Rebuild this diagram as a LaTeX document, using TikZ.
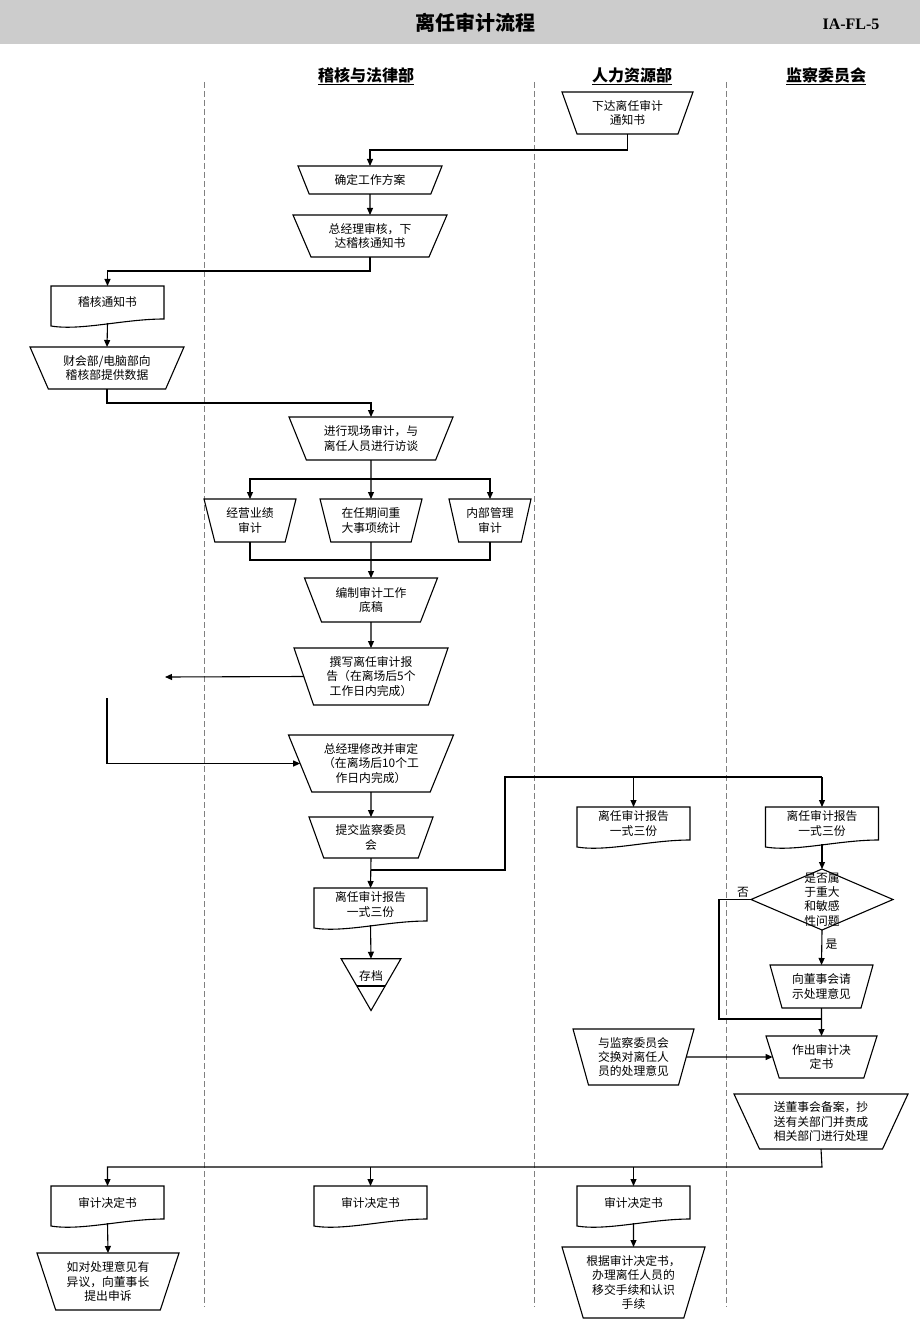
\documentclass[tikz,border=0pt]{standalone}
\usepackage{fontspec}
\setmainfont{Noto Sans CJK SC}
\newfontfamily\latinserif{Liberation Serif}
\usetikzlibrary{shapes.geometric,arrows.meta}

\tikzset{
  box/.style n args={3}{trapezium, trapezium stretches body, shape border rotate=180, draw, outer sep=0pt, inner xsep=-14pt, inner ysep=0pt, minimum width=#1, minimum height=#2, trapezium angle=#3, align=center},
  paper/.style={minimum width=113pt, minimum height=33pt, inner sep=0pt, outer sep=0pt, align=center},
  arr/.style={-{Triangle[length=7pt,width=6pt]}},
  lane/.style={black!50, line width=0.9pt, dash pattern=on 6pt off 3pt},
  head/.style={font=\fontsize{16}{18}\selectfont\bfseries}
}

\begin{document}
\begin{tikzpicture}[x=1pt,y=-1pt,line width=1.1pt,font=\fontsize{11.8}{14.3}\selectfont]
\useasboundingbox (0,0) rectangle (920,1329);
\fill[black!20] (0,0) rectangle (920,44);
\node[font=\fontsize{20}{22}\selectfont\bfseries] (title) at (475,23) {离任审计流程};
\node[font=\latinserif\fontsize{16}{18}\selectfont\bfseries] (code) at (851,24) {IA-FL-5};

\node[head] (law) at (366,76) {\underline{稽核与法律部}};
\node[head] (hr) at (632,76) {\underline{人力资源部}};
\node[head] (cmte) at (826,76) {\underline{监察委员会}};
\foreach \x in {204,534,726} \draw[lane] (\x,82) -- (\x,1307);

% first part
\node[box={131pt}{42pt}{59.2}] (hrnote) at (627.5,113) {下达离任审计\\通知书};
\node[box={144pt}{28pt}{44.5}] (plan) at (370,180) {确定工作方案};
\node[box={154pt}{42pt}{54.5}] (approve) at (370,236) {总经理审核，下\\达稽核通知书};
\node[paper] (notice) at (107.5,302.5) {稽核通知书};
\node[box={154pt}{42pt}{54}] (data) at (107,368) {财会部/电脑部向\\稽核部提供数据};
\node[box={164pt}{43pt}{55.5}] (field) at (371,438.5) {进行现场审计，与\\离任人员进行访谈};
\node[box={92pt}{43pt}{66.7}] (perf) at (250,520.5) {经营业绩\\审计};
\node[box={102pt}{43pt}{66.7}] (major) at (371,520.5) {在任期间重\\大事项统计};
\node[box={82pt}{43pt}{69}] (internal) at (490,520.5) {内部管理\\审计};
\node[box={133pt}{44pt}{56}] (draft) at (371,600) {编制审计工作\\底稿};
\node[box={154pt}{57pt}{63.8}] (report) at (371,676.5) {撰写离任审计报\\告（在离场后5个\\工作日内完成）};
\node[box={165pt}{57pt}{59.6}] (revise) at (371,763.5) {总经理修改并审定\\（在离场后10个工\\作日内完成）};
\node[box={124pt}{41pt}{59.7}] (submit) at (371,837.5) {提交监察委员\\会};
\node[paper] (copyA) at (370.5,904.5) {离任审计报告\\一式三份};
\node[regular polygon, regular polygon sides=3, shape border rotate=180, draw, minimum size=69pt, inner sep=0pt, outer sep=0pt] (archive) at (371,976) {存档};
\draw ([xshift=-14.3pt,yshift=-10pt]archive.center) -- ([xshift=14.3pt,yshift=-10pt]archive.center);

% committee part
\node[paper] (copyB) at (633.5,823.5) {离任审计报告\\一式三份};
\node[paper] (copyC) at (822,823.5) {离任审计报告\\一式三份};
\node[diamond, draw, aspect=2.3, minimum width=142pt, minimum height=61pt, inner sep=-16pt, outer sep=0pt, align=center] (decide) at (822,899.5) {是否属\\于重大\\和敏感\\性问题};
\node[box={103pt}{43pt}{64.5}] (board) at (821.5,986.5) {向董事会请\\示处理意见};
\node[box={111pt}{42pt}{62.4}] (decision) at (821.5,1057) {作出审计决\\定书};
\node[box={121pt}{56pt}{68.6}] (exchange) at (633.5,1057) {与监察委员会\\交换对离任人\\员的处理意见};
\node[box={174pt}{55pt}{57.2}] (file) at (821,1121.5) {送董事会备案，抄\\送有关部门并责成\\相关部门进行处理};

% last part
\node[paper] (decA) at (107.5,1202.5) {审计决定书};
\node[paper] (decB) at (370.5,1202.5) {审计决定书};
\node[paper] (decC) at (633.5,1202.5) {审计决定书};
\node[box={142pt}{57pt}{64.7}] (appeal) at (108,1281.5) {如对处理意见有\\异议，向董事长\\提出申诉};
\node[box={143pt}{71pt}{68.5}] (handle) at (633.5,1282.5) {根据审计决定书，\\办理离任人员的\\移交手续和认识\\手续};

\foreach \d in {notice,copyA,copyB,copyC,decA,decB,decC}
  \draw (\d.north west) -- (\d.north east) -- (\d.south east) .. controls +(-40,0) and +(30,5) .. ([yshift=-7pt]\d.south west) -- cycle;

\coordinate (leftout) at (165,677);
\coordinate (leftin) at (107,698);
\coordinate (fork) at (371,870);
\coordinate (riser) at (505,777);
\coordinate (meet) at (822,1019);
\coordinate (spread) at (822,1167);

\draw[arr] (hrnote.south) -- ++(0,16) -| (plan.north);
\draw[arr] (plan.south) -- (approve.north);
\draw[arr] (approve.south) -- ++(0,14) -| (notice.north);
\draw[arr] ([yshift=-4pt]notice.south) -- (data.north);
\draw[arr] (data.south) -- ++(0,14) -| (field.north);
\draw[arr] (field.south) -- (major.north);
\draw[arr] (major.north |- 0,479) -| (perf.north);
\draw[arr] (major.north |- 0,479) -| (internal.north);
\draw (perf.south) |- (internal.south |- 0,560) -- (internal.south);
\draw[arr] (major.south) -- (draft.north);
\draw[arr] (draft.south) -- (report.north);
\draw[arr] (report.west) -- (leftout);
\draw[arr] (leftin) |- (revise.west);
\draw[arr] (revise.south) -- (submit.north);
\draw[arr] (submit.south) -- (copyA.north);
\draw[arr] ([yshift=-4pt]copyA.south) -- (archive.north);
\draw[line width=2pt] (fork) -| (riser) -- (copyC.north |- riser);
\draw[arr] (copyB.north |- riser) -- (copyB.north);
\draw[arr] (copyC.north |- riser) -- (copyC.north);
\draw[arr] ([yshift=-4pt]copyC.south) -- (decide.north);
\draw[arr] (decide.south) -- node[pos=0.4,right] {是} (board.north);
\draw (decide.west) -- node[pos=0.25,above,inner sep=2pt] {否} ++(-32,0) |- (meet);
\draw[arr] (board.south) -- (decision.north);
\draw[arr] (exchange.east) -- (decision.west);
\draw[arr] (file.south) -- (spread) -| (decA.north);
\draw[arr] (decB.north |- spread) -- (decB.north);
\draw[arr] (decC.north |- spread) -- (decC.north);
\draw[arr] ([yshift=-4pt]decA.south) -- (appeal.north);
\draw[arr] ([yshift=-4pt]decC.south) -- (handle.north);
\end{tikzpicture}
\end{document}
